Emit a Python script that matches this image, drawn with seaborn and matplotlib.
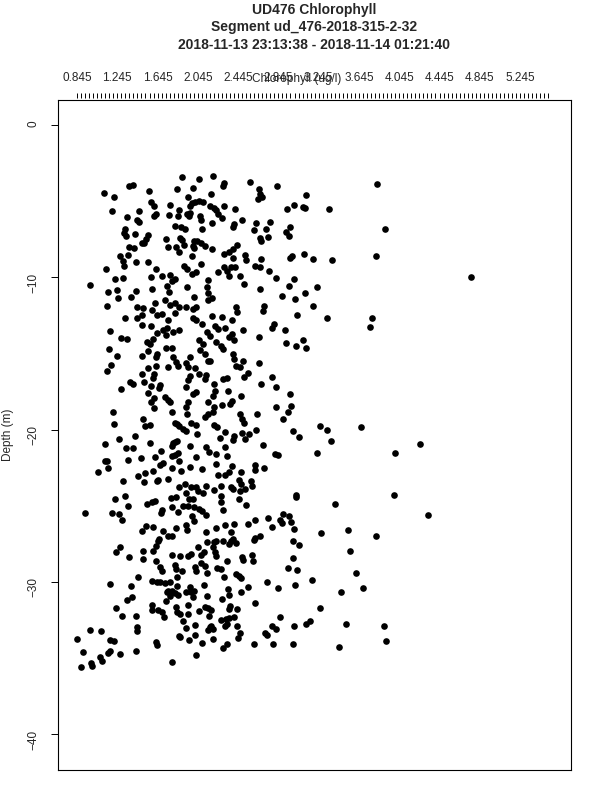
import numpy as np
import pandas as pd
import seaborn as sns
import matplotlib.pyplot as plt
from matplotlib.ticker import FixedLocator

# chlorophyll (ug/l) and depth (m)
chl_band1 = [1.89, 2.06, 2.20, 2.56, 2.83, 3.82, 1.36, 1.40, 1.56, 1.84,
             2.00, 2.30, 2.29, 1.11, 1.21, 1.95, 2.18, 2.65, 2.66, 2.64,
             2.68, 3.12, 1.58, 1.61, 1.77, 1.99, 2.02, 2.06, 2.10, 1.97,
             2.17, 2.30, 3.00, 2.93, 3.09, 3.11, 3.35, 1.19, 1.46, 1.86,
             2.23, 2.21, 2.41, 1.34, 1.63, 1.61, 1.76, 1.85, 1.94, 1.97,
             1.96, 2.07, 2.08, 2.25, 2.28, 1.44, 1.46, 2.19, 2.40, 2.48,
             2.62, 2.76, 1.82, 1.88, 1.92, 2.09, 2.39, 2.60, 2.72, 2.96,
             2.92, 2.95, 3.90, 1.32, 1.31, 1.33, 1.42, 1.55, 1.53, 1.51,
             1.73, 1.87, 1.89, 2.01, 2.04, 2.66, 2.67, 2.74, 1.49, 1.36,
             1.41, 1.75, 1.83, 1.86, 1.91, 2.00, 2.01, 2.08, 2.12, 2.19,
             2.43, 2.39, 2.35, 2.30, 2.51, 1.27, 1.35, 1.30, 1.31, 1.43,
             1.55, 1.99, 2.39, 2.52, 2.67, 2.98, 2.96, 3.10, 3.19, 3.38,
             3.81, 1.13, 1.63, 1.91, 1.94, 2.08, 2.03, 1.99, 2.30, 2.33,
             2.37, 2.41, 2.35, 2.61, 2.66, 2.75, 1.22, 1.30, 1.58, 1.69,
             1.77, 1.82, 1.79, 2.15, 2.25, 2.46, 2.50, 2.82, 3.00, 4.76,
             0.97, 1.15, 1.24, 1.43, 1.59, 1.74, 1.76, 1.94, 2.14, 2.15,
             2.66, 2.95, 3.11, 3.23]
depth_band1 = [-3.43, -3.56, -3.34, -3.72, -3.98, -3.87, -3.98, -3.91, -4.31, -4.20,
               -4.11, -3.82, -4.04, -4.44, -4.76, -4.70, -4.52, -4.22, -4.52, -4.87,
               -4.70, -4.59, -5.03, -5.31, -5.27, -5.14, -5.03, -4.96, -5.03, -5.35,
               -5.31, -5.31, -5.25, -5.53, -5.40, -5.42, -5.49, -5.66, -5.62, -5.57,
               -5.57, -5.46, -5.55, -6.05, -5.84, -5.97, -5.92, -5.97, -5.86, -5.75,
               -6.01, -6.01, -6.23, -5.86, -6.08, -6.27, -6.40, -6.45, -6.49, -6.27,
               -6.45, -6.34, -6.62, -6.67, -6.82, -6.80, -6.67, -6.93, -6.80, -6.67,
               -7.06, -7.32, -6.84, -6.84, -7.10, -7.28, -7.17, -7.21, -7.50, -7.72,
               -7.47, -7.43, -7.58, -7.65, -7.65, -7.43, -7.61, -7.37, -7.76, -8.00,
               -8.09, -8.02, -8.02, -8.37, -7.87, -7.93, -8.09, -7.76, -7.98, -8.13,
               -7.87, -8.15, -8.31, -8.48, -8.52, -8.59, -8.52, -8.96, -9.29, -9.03,
               -9.03, -8.63, -8.74, -8.90, -8.79, -8.59, -8.74, -8.50, -8.81, -8.85,
               -8.61, -9.49, -9.44, -9.25, -9.44, -9.14, -9.66, -9.77, -9.33, -9.62,
               -9.35, -9.33, -9.94, -9.29, -9.33, -9.60, -10.14, -10.03, -9.99, -9.90,
               -9.84, -10.12, -10.27, -10.16, -9.68, -9.94, -10.45, -10.08, -10.14, -10.01,
               -10.49, -10.95, -10.82, -10.93, -10.75, -10.60, -10.99, -10.67, -10.67, -11.04,
               -10.75, -10.60, -11.04, -10.67]

chl_band2 = [1.25, 1.38, 2.01, 2.15, 2.19, 2.88, 3.01, 1.14, 1.44, 1.50,
             1.62, 1.59, 1.72, 1.77, 1.82, 1.86, 1.93, 2.00, 2.03, 2.42,
             2.43, 2.70, 2.69, 3.19, 1.32, 1.44, 1.49, 1.64, 1.69, 1.75,
             1.82, 2.00, 2.03, 2.09, 2.19, 2.28, 2.38, 3.03, 3.33, 3.77,
             3.75, 1.49, 1.58, 1.17, 1.64, 1.70, 1.74, 1.73, 1.80, 1.86,
             2.14, 2.17, 2.22, 2.25, 2.31, 2.49, 2.80, 2.78, 2.91, 1.28,
             1.34, 1.60, 1.57, 1.54, 2.06, 2.10, 2.23, 2.27, 2.29, 2.35,
             2.38, 2.40, 2.65, 2.92, 3.02, 3.09, 3.12, 1.16, 1.24, 1.49,
             1.55, 1.64, 1.63, 1.73, 1.79, 2.07, 2.12, 2.15, 2.17, 2.39,
             2.40, 2.49, 1.80, 1.83, 1.85, 1.97, 1.93, 2.65, 1.18, 1.14,
             1.55, 1.63, 1.75, 1.95, 2.02, 2.42, 2.46, 1.49, 1.61, 1.60,
             1.97, 1.95, 2.06, 2.13, 2.12, 2.29, 2.33, 2.50, 2.54, 2.78,
             1.37, 1.40, 1.51, 1.28, 1.58, 1.67, 1.66, 1.93, 2.21, 2.22,
             2.20, 2.34, 2.67, 2.82, 2.96, 1.55, 2.03, 2.00, 1.61, 1.58,
             1.72, 1.75, 1.77, 1.95, 2.15, 2.38, 2.36, 2.28, 2.47, 1.61,
             1.79, 1.93, 1.94, 2.21, 2.20, 2.15, 2.12, 2.82, 2.97, 2.94,
             1.20, 1.50, 2.46, 2.48, 2.63, 2.89]
depth_band2 = [-11.38, -11.28, -11.32, -11.47, -11.38, -11.25, -11.43, -11.87, -11.93, -12.04,
               -11.69, -12.13, -11.52, -11.82, -11.69, -11.93, -11.93, -12.08, -11.93, -11.93,
               -12.26, -11.91, -12.24, -11.91, -12.70, -12.70, -12.48, -12.48, -12.41, -12.83,
               -12.35, -12.70, -12.81, -13.05, -12.52, -12.63, -12.78, -12.50, -12.70, -12.67,
               -13.24, -13.16, -13.18, -13.53, -13.66, -13.46, -13.33, -13.79, -13.57, -13.48,
               -13.57, -13.88, -13.18, -13.40, -13.33, -13.48, -13.05, -13.31, -13.44, -13.96,
               -14.05, -14.05, -14.38, -14.27, -14.14, -14.38, -14.23, -14.49, -14.71, -13.94,
               -13.72, -14.14, -13.94, -14.31, -14.53, -14.14, -14.66, -14.73, -15.17, -15.19,
               -14.82, -15.04, -15.21, -14.64, -14.66, -14.75, -15.04, -15.47, -15.52, -15.04,
               -15.36, -15.47, -15.25, -15.58, -15.84, -15.21, -15.65, -15.60, -15.78, -16.17,
               -15.95, -15.84, -15.89, -15.91, -15.95, -15.80, -15.91, -16.33, -16.37, -16.59,
               -16.46, -16.78, -16.35, -16.41, -16.68, -16.68, -16.59, -16.57, -16.28, -16.57,
               -16.89, -17.00, -16.89, -17.37, -17.16, -17.07, -17.29, -17.22, -17.00, -17.44,
               -17.77, -17.44, -16.98, -17.24, -17.68, -17.59, -17.51, -17.66, -17.94, -18.20,
               -17.88, -18.03, -18.20, -18.16, -18.16, -18.10, -18.31, -18.36, -17.83, -18.60,
               -18.86, -18.55, -18.97, -18.53, -18.82, -19.01, -19.19, -18.55, -18.47, -18.82,
               -18.84, -19.34, -18.97, -19.34, -18.95, -19.34]

chl_band3 = [1.21, 1.52, 1.57, 1.82, 1.84, 1.86, 1.90, 1.93, 1.98, 2.03,
             2.04, 2.21, 2.24, 2.50, 2.62, 2.99, 3.05, 3.26, 3.33, 3.67,
             1.26, 1.42, 1.12, 1.33, 1.40, 1.57, 1.80, 1.82, 1.84, 1.79,
             1.97, 2.13, 2.26, 2.31, 2.40, 2.39, 2.48, 2.51, 2.55, 2.31,
             2.69, 3.37, 4.25, 1.35, 1.48, 1.62, 1.68, 1.79, 1.82, 1.85,
             1.86, 1.12, 1.14, 1.15, 1.05, 2.03, 2.16, 2.23, 2.33, 2.23,
             2.38, 2.61, 2.61, 2.70, 2.81, 2.84, 3.23, 4.00, 1.67, 1.70,
             1.79, 1.88, 1.97, 2.09, 1.45, 1.52, 1.60, 1.65, 1.64, 1.51,
             1.30, 1.75, 2.25, 2.31, 2.35, 2.47, 2.45, 2.47, 2.57, 2.58,
             1.86, 1.92, 1.98, 2.03, 2.05, 2.10, 2.13, 2.21, 2.27, 2.37,
             2.39, 2.46, 2.51, 1.93, 3.02, 3.02, 3.99, 1.22, 1.32, 1.35,
             1.54, 1.59, 1.62, 1.78, 1.83, 1.96, 2.00, 1.90, 1.95, 1.79,
             1.69, 1.68, 1.85, 2.01, 2.06, 2.09, 2.27, 2.27, 2.45, 2.52,
             2.29, 3.41, 0.92, 1.19, 1.26, 1.29, 2.13, 1.99, 2.01, 2.61,
             2.74, 2.86, 2.88, 2.89, 2.95, 2.97, 4.33, 1.49, 1.53, 1.60,
             1.70, 1.83, 1.93, 1.94, 2.13, 2.23, 2.31, 2.40, 2.37, 2.54,
             2.78, 3.00, 3.27, 3.54, 3.81, 1.66, 1.65, 1.75, 1.79, 2.39,
             2.37, 2.14, 2.21, 2.23, 2.29, 2.35, 2.42, 2.66, 2.61, 2.60,
             2.99, 3.05, 1.27, 1.63, 2.05, 2.20]
depth_band3 = [-19.63, -19.74, -19.70, -19.59, -19.65, -19.74, -19.96, -20.09, -19.59, -19.70,
               -20.29, -19.70, -19.85, -19.59, -20.03, -20.09, -20.49, -19.74, -20.03, -19.81,
               -20.62, -20.44, -20.97, -21.23, -21.23, -20.90, -20.90, -20.79, -20.73, -21.05,
               -21.10, -21.12, -20.57, -20.18, -20.40, -20.68, -20.25, -20.64, -20.31, -21.12,
               -21.03, -20.77, -20.92, -22.02, -21.84, -21.80, -21.40, -21.73, -21.67, -21.56,
               -22.10, -22.04, -22.04, -22.50, -22.78, -21.78, -21.49, -21.60, -21.71, -22.28,
               -22.39, -22.32, -22.65, -22.50, -21.64, -21.69, -21.51, -21.51, -22.34, -22.17,
               -22.54, -22.72, -22.47, -22.58, -23.04, -22.87, -22.74, -23.31, -23.41, -23.46,
               -23.35, -23.26, -22.98, -22.98, -22.82, -22.80, -23.31, -23.55, -23.35, -23.74,
               -23.79, -23.59, -23.79, -23.79, -24.07, -24.18, -23.70, -24.00, -23.70, -23.79,
               -23.90, -24.07, -23.92, -24.14, -24.27, -24.46, -24.31, -24.57, -24.35, -25.05,
               -24.90, -24.79, -24.68, -24.53, -24.44, -24.57, -24.57, -24.99, -25.01, -25.10,
               -25.27, -25.49, -25.43, -25.12, -25.21, -25.32, -24.38, -24.73, -24.57, -24.95,
               -25.27, -24.86, -25.51, -25.45, -25.56, -25.97, -25.64, -25.67, -25.99, -25.95,
               -25.78, -25.93, -26.15, -25.56, -25.71, -26.10, -25.64, -26.69, -26.32, -26.43,
               -26.65, -26.47, -26.30, -26.63, -26.74, -26.50, -26.26, -26.19, -26.74, -26.21,
               -26.43, -26.56, -26.82, -26.58, -27.02, -27.17, -27.35, -27.02, -27.02, -27.17,
               -27.35, -27.41, -27.41, -27.35, -27.31, -27.50, -27.48, -27.02, -27.13, -27.26,
               -27.31, -27.57, -27.72, -27.68, -27.72, -27.72]

chl_band4 = [1.23, 1.50, 1.60, 1.79, 1.87, 1.95, 1.98, 2.08, 2.11, 2.22,
             2.23, 2.48, 2.49, 2.58, 2.59, 2.99, 3.56, 1.36, 1.50, 1.63,
             2.33, 1.67, 1.69, 1.82, 1.83, 1.89, 1.84, 2.02, 2.03, 2.08,
             2.12, 2.14, 2.24, 2.27, 2.30, 2.42, 2.45, 2.47, 2.94, 3.03,
             3.62, 1.45, 1.17, 1.38, 1.59, 1.64, 1.67, 1.72, 1.77, 1.84,
             1.97, 2.11, 2.34, 2.54, 2.47, 2.73, 2.84, 3.01, 3.18, 3.47,
             3.69, 1.74, 1.75, 1.79, 1.82, 1.85, 1.77, 1.73, 1.93, 1.98,
             2.00, 2.01, 2.14, 2.28, 2.35, 1.39, 1.34, 2.61, 1.23, 1.29,
             1.43, 1.59, 1.59, 1.65, 1.69, 1.71, 1.83, 1.87, 1.84, 1.90,
             1.95, 1.95, 2.06, 2.12, 2.15, 2.18, 2.16, 2.35, 2.36, 2.43,
             2.35, 2.32, 2.40, 2.27, 2.86, 3.26, 1.44, 1.44, 1.93, 2.02,
             2.15, 2.17, 2.18, 2.20, 2.31, 2.33, 2.43, 2.46, 2.44, 2.73,
             2.71, 2.78, 2.82, 3.00, 3.12, 3.16, 3.52, 3.89, 0.84, 0.97,
             1.08, 1.17, 1.21, 1.63, 1.64, 1.87, 1.86, 1.96, 2.02, 2.09,
             2.20, 2.33, 2.29, 2.60, 2.79, 2.99, 3.45, 3.91, 0.90, 1.15,
             1.17, 1.27, 1.43, 1.07, 1.09, 2.03, 0.88, 0.99, 0.98, 1.79]
depth_band4 = [-28.05, -27.96, -27.96, -28.22, -28.33, -28.29, -28.18, -28.22, -28.07, -28.07,
               -28.29, -28.40, -28.57, -28.22, -28.66, -28.44, -27.96, -28.40, -28.51, -28.66,
               -28.66, -29.05, -29.31, -28.88, -29.16, -29.31, -29.71, -29.05, -29.31, -28.79,
               -28.94, -29.42, -29.12, -29.16, -29.71, -29.49, -29.60, -29.75, -29.10, -29.23,
               -29.45, -29.66, -30.14, -30.25, -29.93, -29.99, -30.04, -30.08, -29.99, -30.25,
               -30.32, -30.19, -30.49, -30.34, -30.69, -30.04, -30.41, -30.19, -29.86, -30.69,
               -30.39, -30.69, -30.58, -30.63, -30.76, -30.84, -30.91, -31.24, -30.65, -30.69,
               -30.98, -30.58, -30.93, -31.11, -30.87, -31.02, -31.19, -31.37, -31.74, -32.22,
               -32.22, -31.52, -31.85, -31.85, -32.00, -32.33, -31.63, -32.11, -32.00, -32.59,
               -32.11, -31.50, -31.94, -31.67, -31.74, -31.85, -32.22, -31.78, -31.57, -31.81,
               -32.37, -32.44, -32.29, -32.51, -32.29, -31.70, -32.99, -33.25, -33.05, -32.81,
               -33.14, -32.99, -32.88, -33.10, -32.92, -32.77, -32.92, -33.34, -33.69, -33.49,
               -33.38, -32.90, -33.10, -32.92, -32.77, -32.59, -32.75, -32.88, -33.75, -33.18,
               -33.25, -33.82, -33.90, -33.93, -34.12, -33.64, -33.53, -33.80, -33.51, -34.04,
               -33.75, -34.08, -34.34, -34.08, -34.10, -34.06, -34.25, -33.88, -34.63, -34.69,
               -34.52, -34.74, -34.56, -34.91, -35.17, -34.80, -35.61, -35.50, -35.35, -35.28]

top_tick_labels = ['0.845', '1.245', '1.645', '2.045', '2.445', '2.845',
                   '3.245', '3.645', '4.045', '4.445', '4.845', '5.245']
depth_ticks = [0, -10, -20, -30, -40]

sns.set_style('white')
plt.rcParams['font.family'] = ['Liberation Sans', 'DejaVu Sans']

df = pd.DataFrame({
    'chlorophyll': chl_band1 + chl_band2 + chl_band3 + chl_band4,
    'depth': depth_band1 + depth_band2 + depth_band3 + depth_band4,
})

fig = plt.figure(figsize=(6, 8), dpi=100)
ax = fig.add_axes([58 / 600, 30 / 800, 513 / 600, 670 / 800])
sns.scatterplot(data=df, x='chlorophyll', y='depth', color='black', s=23,
                linewidth=0, legend=False, ax=ax)

ax.set_xlim(0.656, 5.751)
ax.set_ylim(-42.36, 1.64)
ax.set_xlabel('')
ax.set_ylabel('')
ax.tick_params(axis='x', bottom=False, top=False, labelbottom=False)
ax.set_yticks(depth_ticks)
ax.tick_params(axis='y', left=True, length=5, width=0.7, pad=8,
               labelsize=8.5, labelrotation=90, color='black')
for s in ax.spines.values():
    s.set_color('black')
    s.set_linewidth(0.8)

# top axis, floating a little above the box like R's axis(3)
sec = ax.secondary_xaxis(1.0037)
for s in sec.spines.values():
    s.set_visible(False)
sec.set_xticks([float(t) for t in top_tick_labels], labels=top_tick_labels)
sec.xaxis.set_minor_locator(FixedLocator(np.arange(0.845, 5.53, 0.04)))
sec.tick_params(which='both', length=3.6, width=0.7, direction='out',
                pad=6, labelsize=8.5, color='black')

# axis label sits on top of the tick labels, as in the original
fig.text(297 / 600, 1 - 79 / 800, 'Chlorophyll (ug/l)', ha='center',
         va='center', fontsize=8.5)
fig.text(8 / 600, 0.5 - 35 / 800, 'Depth (m)', rotation=90, ha='center',
         va='center', fontsize=8.5)

fig.text(314 / 600, 1 - 10 / 800, 'UD476 Chlorophyll', ha='center',
         va='center', fontsize=10, fontweight='bold')
fig.text(314 / 600, 1 - 27 / 800, 'Segment ud_476-2018-315-2-32',
         ha='center', va='center', fontsize=10, fontweight='bold')
fig.text(314 / 600, 1 - 45 / 800, '2018-11-13 23:13:38 - 2018-11-14 01:21:40',
         ha='center', va='center', fontsize=10, fontweight='bold')

fig.savefig('out.png', dpi=100)
